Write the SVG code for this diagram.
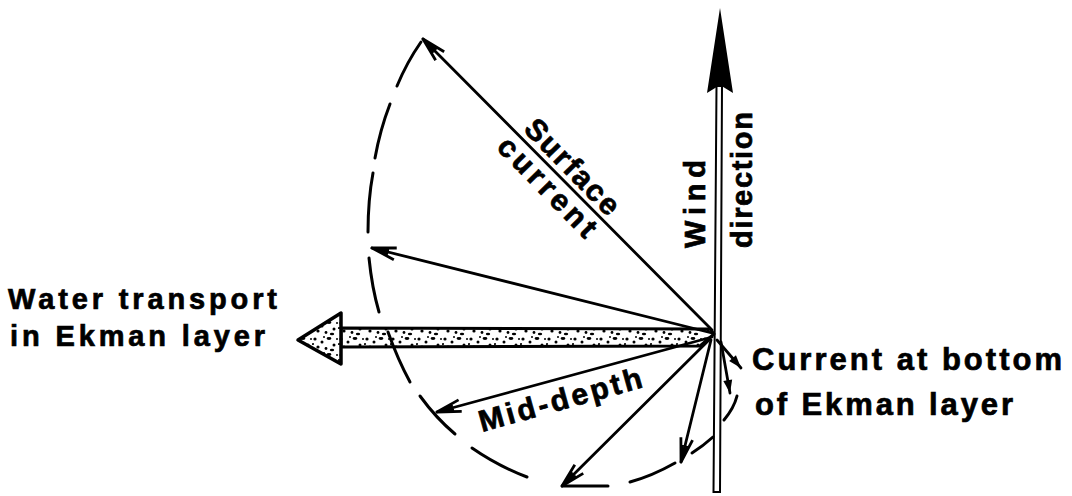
<svg xmlns="http://www.w3.org/2000/svg" width="1072" height="496" viewBox="0 0 1072 496">
<style>
  .lbl { font-family: "Liberation Sans", Arial, sans-serif; font-weight: bold; fill: #000; stroke: #000; stroke-width: 0.7; }
  .vec { stroke: #000; stroke-width: 2.8; fill: none; stroke-linecap: round; }
  .dash { stroke: #000; stroke-width: 3; fill: none; stroke-linecap: round; }
</style>
<defs>
  <marker id="ah" markerUnits="userSpaceOnUse" markerWidth="30" markerHeight="20" viewBox="-26 -10 30 20" refX="0" refY="0" orient="auto" overflow="visible">
    <path d="M-24,-6 L0,0 L-24,6 M-17,-2.5 L0,0 L-17,2.5" stroke="#000" stroke-width="2.8" fill="none" stroke-linejoin="round"/>
  </marker>
  <marker id="ahs" markerUnits="userSpaceOnUse" markerWidth="20" markerHeight="14" viewBox="-14 -7 16 14" refX="0" refY="0" orient="auto" overflow="visible">
    <path d="M-13,-4.5 L0,0 L-13,4.5 Z" fill="#000"/>
  </marker>
  <pattern id="stip" patternUnits="userSpaceOnUse" width="26" height="16">
    <rect width="26" height="16" fill="#fff"/>
    <g fill="#000">
      <circle cx="3" cy="3" r="1.6"/>
      <circle cx="10" cy="6" r="1.5"/>
      <ellipse cx="17" cy="2.5" rx="2.4" ry="1.4"/>
      <circle cx="22" cy="9" r="1.5"/>
      <circle cx="6" cy="11" r="1.6"/>
      <circle cx="14" cy="12.5" r="1.4"/>
      <ellipse cx="20" cy="14" rx="2.2" ry="1.2"/>
      <circle cx="1" cy="8" r="1.1"/>
      <circle cx="12" cy="1" r="1"/>
      <circle cx="25" cy="3" r="1"/>
    </g>
  </pattern>
</defs>
<rect width="1072" height="496" fill="#fff"/>

<g id="wind">
  <polygon points="716.5,86 722,86 720,492 713.5,492" fill="#fff" stroke="#000" stroke-width="2"/>
  <polygon points="720,8 733,93 720,85 707,93" fill="#000"/>
</g>

<g id="transport">
  <polygon points="341,328 710,329 714,334 700,346 341,347" fill="url(#stip)" stroke="#000" stroke-width="3" stroke-linejoin="round"/>
  <polygon points="298,340 341,313 341,364" fill="url(#stip)" stroke="#000" stroke-width="3.5" stroke-linejoin="round"/>
</g>

<g id="connectors">
  <line class="vec" x1="712" y1="330" x2="423" y2="39" marker-end="url(#ah)"/>
  <line class="vec" x1="712" y1="333" x2="372" y2="248" marker-end="url(#ah)"/>
  <line class="vec" x1="712" y1="337" x2="437" y2="412" marker-end="url(#ah)"/>
  <line class="vec" x1="710" y1="339" x2="562" y2="486" marker-end="url(#ah)"/>
  <line class="vec" x1="711" y1="340" x2="681" y2="462" marker-end="url(#ah)"/>
  <line class="vec" x1="717" y1="340" x2="741" y2="368" marker-end="url(#ahs)"/>
  <line class="vec" x1="721" y1="342" x2="730" y2="393" marker-end="url(#ahs)"/>
</g>

<g id="hodograph">
  <path class="dash" d="M421,42 Q407,62 397,86"/>
  <path class="dash" d="M390,104 Q380,130 375,158"/>
  <path class="dash" d="M373,173 Q368,200 368,232"/>
  <path class="dash" d="M369,258 Q372,288 379,312"/>
  <path class="dash" d="M388,332 Q398,360 410,382"/>
  <path class="dash" d="M420,396 Q436,418 455,434"/>
  <path class="dash" d="M472,448 Q498,466 527,477"/>
  <path class="dash" d="M563,486 L608,486"/>
  <path class="dash" d="M630,482 Q652,476 675,463"/>
  <path class="dash" d="M692,453 Q703,446 713,437"/>
  <path class="dash" d="M737,396 Q734,408 724,420"/>
</g>

<g id="label-surface" transform="translate(423,40) rotate(45.6)">
  <text class="lbl" x="134" y="-8" font-size="30" textLength="122" lengthAdjust="spacing">Surface</text>
  <text class="lbl" x="128" y="24" font-size="30" textLength="128" lengthAdjust="spacing">current</text>
</g>

<g id="label-wind">
  <text class="lbl" transform="translate(705,248) rotate(-90)" font-size="29" textLength="88" lengthAdjust="spacing">Wind</text>
  <text class="lbl" transform="translate(752,248) rotate(-90)" font-size="29" textLength="136" lengthAdjust="spacing">direction</text>
</g>

<g id="label-transport">
  <text class="lbl" x="8" y="309" font-size="29" textLength="269" lengthAdjust="spacing">Water transport</text>
  <text class="lbl" x="10" y="346" font-size="29" textLength="255" lengthAdjust="spacing">in Ekman layer</text>
</g>

<g id="label-middepth">
  <text class="lbl" transform="translate(482,432) rotate(-15.5)" font-size="30" textLength="168" lengthAdjust="spacing">Mid-depth</text>
</g>

<g id="label-bottom">
  <text class="lbl" x="752" y="370" font-size="31" textLength="310" lengthAdjust="spacing">Current at bottom</text>
  <text class="lbl" x="755" y="415" font-size="31" textLength="258" lengthAdjust="spacing">of Ekman layer</text>
</g>
</svg>
